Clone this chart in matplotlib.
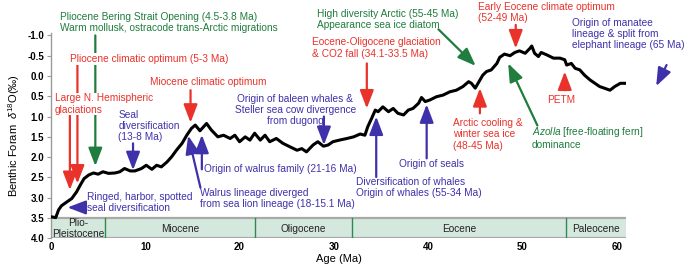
import numpy as np
import matplotlib
matplotlib.use("Agg")
import matplotlib.pyplot as plt

# Fonts
plt.rcParams['font.family'] = ['Liberation Sans', 'DejaVu Sans']
plt.rcParams['mathtext.fontset'] = 'custom'
plt.rcParams['mathtext.rm'] = 'Liberation Sans'
plt.rcParams['mathtext.it'] = 'Liberation Sans:italic'

# Benthic foram d18O curve (age in Ma, permil)
age = [0.0, 0.5, 0.8, 1.1, 1.7, 2.2, 2.7, 3.1, 3.5, 4.0, 4.5, 5.0, 5.5, 6.1, 6.8,
       7.3, 7.8, 8.4, 8.9, 9.6, 10.1, 10.7, 11.2, 11.7, 12.3, 12.8, 13.3, 13.9,
       14.4, 14.9, 15.3, 15.8, 16.5, 17.0, 17.7, 18.3, 19.0, 19.5, 20.0, 20.6,
       21.1, 21.6, 22.2, 22.7, 23.2, 23.9, 24.6, 25.3, 26.1, 26.6, 27.1, 27.8,
       28.3, 28.9, 29.4, 29.9, 30.6, 31.4, 32.1, 32.8, 33.3, 33.6, 34.0, 34.4,
       34.7, 35.2, 35.8, 36.3, 36.8, 37.4, 37.9, 38.4, 39.0, 39.3, 39.7, 40.2,
       40.9, 41.6, 42.3, 43.0, 43.7, 44.3, 44.6, 45.0, 45.3, 45.8, 46.2, 46.7,
       47.3, 47.6, 48.1, 48.7, 49.2, 49.7, 50.3, 50.8, 51.0, 51.3, 51.7, 52.0,
       52.6, 53.3, 54.0, 54.5, 54.7, 55.2, 55.6, 56.1, 56.6, 57.2, 57.7, 58.2,
       58.7, 59.3, 59.8, 60.4, 60.9]
d18o = [3.47, 3.49, 3.30, 3.20, 3.10, 3.02, 2.86, 2.69, 2.53, 2.44, 2.39, 2.42,
        2.36, 2.40, 2.39, 2.36, 2.28, 2.34, 2.34, 2.28, 2.20, 2.30, 2.20, 2.24,
        2.12, 1.99, 1.83, 1.66, 1.46, 1.29, 1.21, 1.35, 1.17, 1.33, 1.50, 1.46,
        1.54, 1.46, 1.62, 1.50, 1.58, 1.41, 1.58, 1.46, 1.62, 1.54, 1.66, 1.74,
        1.83, 1.79, 1.87, 1.70, 1.62, 1.73, 1.70, 1.62, 1.58, 1.54, 1.50, 1.43,
        1.46, 1.25, 1.05, 0.84, 0.88, 0.76, 0.88, 0.80, 0.92, 0.96, 0.84, 0.80,
        0.67, 0.53, 0.63, 0.59, 0.51, 0.47, 0.39, 0.35, 0.26, 0.14, 0.18, 0.30,
        0.18, -0.02, -0.11, -0.15, -0.31, -0.46, -0.54, -0.50, -0.58, -0.62,
        -0.56, -0.68, -0.74, -0.56, -0.48, -0.58, -0.52, -0.44, -0.44, -0.40,
        -0.27, -0.31, -0.19, -0.15, -0.02, 0.10, 0.18, 0.26, 0.30, 0.35, 0.26,
        0.18, 0.18]

# Epochs
epoch_edges = [0, 5.7, 21.6, 31.9, 54.6, 61.0]
epoch_names = ['Plio-\nPleistocene', 'Miocene', 'Oligocene', 'Eocene', 'Paleocene']
epoch_label_x = [2.9, 13.7, 26.8, 43.3, 57.8]

y_ticks = [-1.0, -0.5, 0.0, 0.5, 1.0, 1.5, 2.0, 2.5, 3.0, 3.5, 4.0]
x_ticks = [0, 10, 20, 30, 40, 50, 60]

# Colours
RED = '#e8322a'
GREEN = '#1f7d3d'
BLUE = '#3f31aa'
FS = 7.3

fig = plt.figure(figsize=(6.85, 2.65), dpi=100)
ax = fig.add_axes([0.0745, 0.1008, 0.8394, 0.7747])
ax.set_xlim(0, 61.0)
ax.set_ylim(4.0, -1.06)

# Epoch bar along the bottom
ax.axhspan(3.5, 4.0, color='#d5e8de', zorder=1, lw=0)
ax.axhline(3.5, color='#a9a9a9', lw=1.6, zorder=2)
ax.axhline(4.0, color='#a9a9a9', lw=1.6, zorder=2)
for e in epoch_edges[1:-1]:
    ax.plot([e, e], [3.5, 4.0], color='#2e8b50', lw=1.0, zorder=2)
for name, xl in zip(epoch_names, epoch_label_x):
    ax.text(xl, 3.76, name, ha='center', va='center', fontsize=FS,
            color='#222222', linespacing=1.2, zorder=3)

# Curve
ax.plot(age, d18o, color='black', lw=2.2, zorder=5, solid_joinstyle='round')


def arrow(tail, head, color):
    ax.annotate('', xy=head, xytext=tail, annotation_clip=False, zorder=4,
                arrowprops=dict(arrowstyle='-|>,head_length=1.1,head_width=0.42',
                                mutation_scale=10, lw=1.6, color=color,
                                shrinkA=0, shrinkB=0))


def note(x, y, s, color, ha='left', box=False):
    kw = {}
    if box:
        kw['bbox'] = dict(facecolor='white', edgecolor='none', pad=0.6)
    ax.text(x, y, s, color=color, fontsize=FS, ha=ha, va='center',
            multialignment=ha if ha != 'center' else 'center',
            linespacing=1.15, zorder=6, **kw)


# Annotations
arrow((4.7, -1.0), (4.7, 2.22), GREEN)
note(0.95, -1.31, 'Pliocene Bering Strait Opening (4.5-3.8 Ma)\n'
     'Warm mollusk, ostracode trans-Arctic migrations', GREEN)

arrow((2.8, -0.32), (2.8, 2.65), RED)
note(10.45, -0.42, 'Pliocene climatic optimum (5-3 Ma)', RED, ha='center', box=True)

arrow((2.0, 0.98), (2.0, 2.81), RED)
note(0.42, 0.69, 'Large N. Hemispheric\nglaciations', RED, box=True)

arrow((8.7, 1.66), (8.7, 2.32), BLUE)
note(7.14, 1.23, 'Seal\ndiversification\n(13-8 Ma)', BLUE)

arrow((3.4, 3.24), (1.75, 3.24), BLUE)
note(3.85, 3.11, 'Ringed, harbor, spotted\nseal diversification', BLUE)

arrow((14.8, 0.35), (14.8, 1.15), RED)
note(10.5, 0.16, 'Miocene climatic optimum', RED)

arrow((28.95, 1.0), (28.95, 1.70), BLUE)
note(25.9, 0.84, 'Origin of baleen whales &\nSteller sea cow divergence\nfrom dugong',
     BLUE, ha='center')

arrow((16.0, 2.3), (16.0, 1.45), BLUE)
note(16.2, 2.28, 'Origin of walrus family (21-16 Ma)', BLUE)

arrow((15.85, 2.75), (14.55, 1.47), BLUE)
note(15.8, 3.02, 'Walrus lineage diverged\nfrom sea lion lineage (18-15.1 Ma)', BLUE)

arrow((33.5, -0.31), (33.5, 0.8), RED)
note(27.65, -0.69, 'Eocene-Oligocene glaciation\n& CO2 fall (34.1-33.5 Ma)', RED)

arrow((41.1, -1.15), (45.05, -0.25), GREEN)
note(28.24, -1.4, 'High diversity Arctic (55-45 Ma)\nAppearance sea ice diatom', GREEN)

arrow((34.5, 2.49), (34.5, 1.0), BLUE)
note(32.35, 2.75, 'Diversification of whales\nOrigin of whales (55-34 Ma)', BLUE)

arrow((39.85, 2.03), (39.85, 0.70), BLUE)
note(36.93, 2.16, 'Origin of seals', BLUE)

arrow((45.5, 0.92), (45.5, 0.3), RED)
note(42.66, 1.44, 'Arctic cooling &\nwinter sea ice\n(48-45 Ma)', RED)

arrow((51.6, 1.22), (48.5, -0.31), GREEN)
note(50.98, 1.52, r'$\it{Azolla}$ [free-floating fern]' + '\ndominance', GREEN)

arrow((49.3, -1.26), (49.3, -0.68), RED)
note(45.31, -1.57, 'Early Eocene climate optimum\n(52-49 Ma)', RED)

arrow((54.5, 0.35), (54.5, -0.11), RED)
note(54.15, 0.58, 'PETM', RED, ha='center')

arrow((65.3, -0.27), (64.2, 0.25), BLUE)
note(55.32, -1.03, 'Origin of manatee\nlineage & split from\nelephant lineage (65 Ma)', BLUE)

# Axes styling
for side in ['top', 'right', 'bottom']:
    ax.spines[side].set_visible(False)
ax.spines['left'].set_color('#9a9a9a')
ax.spines['left'].set_linewidth(1.0)
ax.set_yticks(y_ticks)
ax.set_yticklabels(['%.1f' % v for v in y_ticks], fontsize=7, fontweight='bold')
ax.set_xticks(x_ticks)
ax.set_xticklabels([str(v) for v in x_ticks], fontsize=7, fontweight='bold')
ax.tick_params(axis='y', length=3, color='#9a9a9a', pad=2)
ax.tick_params(axis='x', length=0, pad=3)
ax.set_xlabel('Age (Ma)', fontsize=8, labelpad=1)
ax.set_ylabel(r'Benthic Foram  $\delta^{18}$O(‰)', fontsize=8, labelpad=4)

fig.savefig('out.png', dpi=100)
